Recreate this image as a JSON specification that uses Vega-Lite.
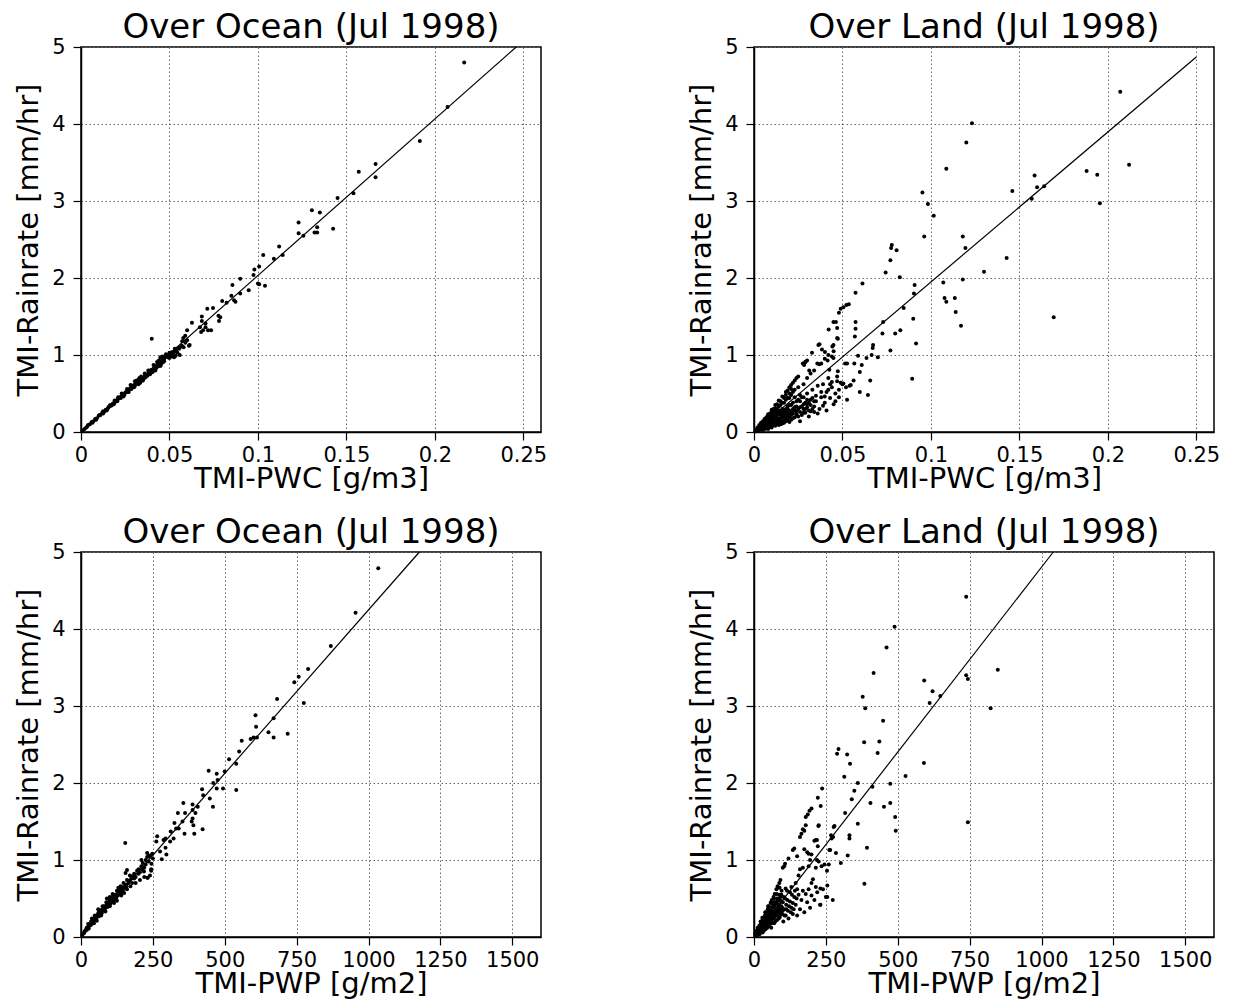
{
"$schema": "https://vega.github.io/schema/vega-lite/v6.json",
"padding": {"left": 13, "top": 10, "right": 5, "bottom": 5},
"bounds": "flush",
"columns": 2,
"spacing": {"row": 120, "column": 213},
"config": {
  "font": "DejaVu Sans",
  "view": {"stroke": "black", "strokeWidth": 1.5},
  "axis": {"domainColor": "black", "domainWidth": 1.5, "tickColor": "black", "tickSize": 8, "tickWidth": 1.2, "labelColor": "black", "titleColor": "black", "labelFontSize": 21, "titleFontSize": 29, "titleFontWeight": "normal", "labelFont": "DejaVu Sans", "titleFont": "DejaVu Sans", "grid": true, "gridColor": "#666666", "gridDash": [1.5, 2.5], "gridWidth": 1, "labelOverlap": false, "labelFlush": false},
  "axisX": {"labelPadding": 4, "titlePadding": -1},
  "axisY": {"labelPadding": 8, "titlePadding": 8},
  "title": {"fontSize": 34, "fontWeight": "normal", "font": "DejaVu Sans", "color": "black", "offset": -9, "anchor": "middle"}
},
"datasets": {
  "oceanPWC": [
    {"pwc":0.2166,"rain":4.80},{"pwc":0.2072,"rain":4.22},{"pwc":0.1915,"rain":3.78},{"pwc":0.1665,"rain":3.48},{"pwc":0.1665,"rain":3.31},{"pwc":0.157,"rain":3.38},{"pwc":0.154,"rain":3.10},{"pwc":0.145,"rain":3.04},{"pwc":0.1425,"rain":2.64},{"pwc":0.135,"rain":2.85},{"pwc":0.1305,"rain":2.88},{"pwc":0.1335,"rain":2.66},{"pwc":0.132,"rain":2.59},{"pwc":0.1335,"rain":2.59},{"pwc":0.123,"rain":2.72},{"pwc":0.123,"rain":2.58},{"pwc":0.1257,"rain":2.55},{"pwc":0.112,"rain":2.41},{"pwc":0.114,"rain":2.30},{"pwc":0.109,"rain":2.25},{"pwc":0.103,"rain":2.30},{"pwc":0.1007,"rain":2.15},{"pwc":0.098,"rain":2.11},{"pwc":0.0975,"rain":2.04},{"pwc":0.100,"rain":1.93},{"pwc":0.1007,"rain":1.92},{"pwc":0.104,"rain":1.90},{"pwc":0.090,"rain":1.99},{"pwc":0.0948,"rain":1.84},{"pwc":0.090,"rain":1.80},{"pwc":0.0856,"rain":1.91},{"pwc":0.085,"rain":1.77},{"pwc":0.0865,"rain":1.71},{"pwc":0.0873,"rain":1.69},{"pwc":0.0798,"rain":1.70},{"pwc":0.0823,"rain":1.68},{"pwc":0.0787,"rain":1.49},{"pwc":0.0777,"rain":1.51},{"pwc":0.078,"rain":1.44},{"pwc":0.0746,"rain":1.61},{"pwc":0.0714,"rain":1.60},{"pwc":0.0683,"rain":1.50},{"pwc":0.0683,"rain":1.44},{"pwc":0.0627,"rain":1.42},{"pwc":0.0672,"rain":1.36},{"pwc":0.0704,"rain":1.41},{"pwc":0.0704,"rain":1.36},{"pwc":0.0718,"rain":1.32},{"pwc":0.0735,"rain":1.32},{"pwc":0.0679,"rain":1.30},{"pwc":0.069,"rain":1.32},{"pwc":0.060,"rain":1.32},{"pwc":0.0589,"rain":1.25},{"pwc":0.0578,"rain":1.22},{"pwc":0.0572,"rain":1.18},{"pwc":0.0614,"rain":1.13},{"pwc":0.040,"rain":1.21},{"pwc":0.0558,"rain":1.00},{"pwc":0.0516,"rain":1.04},{"pwc":0.0526,"rain":0.97},{"pwc":0.0495,"rain":0.97},{"pwc":0.0464,"rain":0.95},{"pwc":0.0447,"rain":0.89},{"pwc":0.0449,"rain":0.97},{"pwc":0.0422,"rain":0.83},{"pwc":0.039,"rain":0.80},
    {"pwc":0.001,"rain":0.02},{"pwc":0.002,"rain":0.04},{"pwc":0.003,"rain":0.06},{"pwc":0.004,"rain":0.09},{"pwc":0.005,"rain":0.10},{"pwc":0.006,"rain":0.13},{"pwc":0.007,"rain":0.14},{"pwc":0.008,"rain":0.17},{"pwc":0.009,"rain":0.18},{"pwc":0.010,"rain":0.21},{"pwc":0.011,"rain":0.22},{"pwc":0.012,"rain":0.25},{"pwc":0.013,"rain":0.26},{"pwc":0.014,"rain":0.29},{"pwc":0.015,"rain":0.30},{"pwc":0.016,"rain":0.33},{"pwc":0.017,"rain":0.34},{"pwc":0.018,"rain":0.37},{"pwc":0.019,"rain":0.38},{"pwc":0.020,"rain":0.41},{"pwc":0.021,"rain":0.43},{"pwc":0.022,"rain":0.45},{"pwc":0.023,"rain":0.47},{"pwc":0.024,"rain":0.49},{"pwc":0.025,"rain":0.51},{"pwc":0.026,"rain":0.53},{"pwc":0.027,"rain":0.55},{"pwc":0.028,"rain":0.57},{"pwc":0.029,"rain":0.59},{"pwc":0.030,"rain":0.61},{"pwc":0.031,"rain":0.63},{"pwc":0.032,"rain":0.65},{"pwc":0.033,"rain":0.66},{"pwc":0.034,"rain":0.68},{"pwc":0.035,"rain":0.70},{"pwc":0.036,"rain":0.72},{"pwc":0.037,"rain":0.74},{"pwc":0.038,"rain":0.76},{"pwc":0.039,"rain":0.79},{"pwc":0.040,"rain":0.81},{"pwc":0.041,"rain":0.82},{"pwc":0.042,"rain":0.85},{"pwc":0.043,"rain":0.87},{"pwc":0.044,"rain":0.90},{"pwc":0.045,"rain":0.92},{"pwc":0.046,"rain":0.93},{"pwc":0.047,"rain":0.95},{"pwc":0.048,"rain":0.98},{"pwc":0.050,"rain":1.01},{"pwc":0.051,"rain":1.03},{"pwc":0.052,"rain":1.02},{"pwc":0.053,"rain":1.05},{"pwc":0.054,"rain":1.07},{"pwc":0.055,"rain":1.09},{"pwc":0.056,"rain":1.10},{"pwc":0.057,"rain":1.12},
    {"pwc":0.0035,"rain":0.07},{"pwc":0.0065,"rain":0.12},{"pwc":0.0085,"rain":0.16},{"pwc":0.0105,"rain":0.22},{"pwc":0.0125,"rain":0.24},{"pwc":0.0145,"rain":0.28},{"pwc":0.0155,"rain":0.32},{"pwc":0.0175,"rain":0.35},{"pwc":0.0185,"rain":0.36},{"pwc":0.0195,"rain":0.40},{"pwc":0.0205,"rain":0.40},{"pwc":0.0215,"rain":0.44},{"pwc":0.0225,"rain":0.44},{"pwc":0.0235,"rain":0.48},{"pwc":0.0245,"rain":0.48},{"pwc":0.0255,"rain":0.52},{"pwc":0.0265,"rain":0.52},{"pwc":0.0275,"rain":0.56},{"pwc":0.0285,"rain":0.56},{"pwc":0.0295,"rain":0.60},{"pwc":0.0305,"rain":0.60},{"pwc":0.0315,"rain":0.64},{"pwc":0.0325,"rain":0.62},{"pwc":0.0335,"rain":0.64},{"pwc":0.0345,"rain":0.67},{"pwc":0.0355,"rain":0.69},{"pwc":0.0365,"rain":0.71},{"pwc":0.0375,"rain":0.73},{"pwc":0.0385,"rain":0.75},{"pwc":0.0395,"rain":0.77},{"pwc":0.0405,"rain":0.78},{"pwc":0.0415,"rain":0.84},{"pwc":0.0425,"rain":0.83},{"pwc":0.0435,"rain":0.85},{"pwc":0.0445,"rain":0.86},{"pwc":0.0455,"rain":0.89},{"pwc":0.0465,"rain":0.91},{"pwc":0.049,"rain":0.97},{"pwc":0.0495,"rain":1.00},{"pwc":0.0515,"rain":1.00},{"pwc":0.0525,"rain":1.04},{"pwc":0.0535,"rain":0.99},{"pwc":0.0545,"rain":1.03},{"pwc":0.058,"rain":1.10},{"pwc":0.059,"rain":1.16},{"pwc":0.060,"rain":1.19},{"pwc":0.061,"rain":1.12},{"pwc":0.0555,"rain":1.08},{"pwc":0.053,"rain":0.99},{"pwc":0.051,"rain":0.98},{"pwc":0.0305,"rain":0.66},{"pwc":0.0315,"rain":0.67},{"pwc":0.0325,"rain":0.68},{"pwc":0.034,"rain":0.72},
    {"pwc":0.0125,"rain":0.27},{"pwc":0.0165,"rain":0.35},{"pwc":0.019,"rain":0.41},{"pwc":0.021,"rain":0.45},{"pwc":0.023,"rain":0.50},{"pwc":0.026,"rain":0.56},{"pwc":0.028,"rain":0.61},{"pwc":0.031,"rain":0.66},{"pwc":0.033,"rain":0.70},{"pwc":0.036,"rain":0.76},{"pwc":0.038,"rain":0.80},{"pwc":0.041,"rain":0.87},{"pwc":0.043,"rain":0.91},{"pwc":0.030,"rain":0.58},{"pwc":0.027,"rain":0.52},{"pwc":0.024,"rain":0.46},{"pwc":0.035,"rain":0.67},{"pwc":0.039,"rain":0.75},{"pwc":0.042,"rain":0.80},{"pwc":0.045,"rain":0.86},{"pwc":0.047,"rain":0.92},{"pwc":0.050,"rain":0.96},{"pwc":0.044,"rain":0.93},{"pwc":0.046,"rain":0.98},{"pwc":0.048,"rain":1.01},{"pwc":0.050,"rain":1.03},{"pwc":0.053,"rain":1.08}
  ],
  "landPWC": [
    {"pwc":0.207,"rain":4.42},{"pwc":0.212,"rain":3.47},{"pwc":0.188,"rain":3.39},{"pwc":0.194,"rain":3.34},{"pwc":0.1955,"rain":2.97},{"pwc":0.1586,"rain":3.33},{"pwc":0.160,"rain":3.18},{"pwc":0.164,"rain":3.19},{"pwc":0.157,"rain":3.03},{"pwc":0.146,"rain":3.13},{"pwc":0.1428,"rain":2.26},{"pwc":0.130,"rain":2.08},{"pwc":0.1232,"rain":4.01},{"pwc":0.120,"rain":3.76},{"pwc":0.1087,"rain":3.42},{"pwc":0.0952,"rain":3.11},{"pwc":0.0983,"rain":2.96},{"pwc":0.1016,"rain":2.81},{"pwc":0.0962,"rain":2.54},{"pwc":0.118,"rain":2.54},{"pwc":0.1195,"rain":2.39},{"pwc":0.118,"rain":1.98},{"pwc":0.107,"rain":1.94},{"pwc":0.1077,"rain":1.74},{"pwc":0.1087,"rain":1.69},{"pwc":0.1135,"rain":1.74},{"pwc":0.114,"rain":1.56},{"pwc":0.117,"rain":1.38},{"pwc":0.1694,"rain":1.49},{"pwc":0.0908,"rain":1.91},{"pwc":0.0904,"rain":1.80},{"pwc":0.090,"rain":1.47},{"pwc":0.0916,"rain":1.15},{"pwc":0.0894,"rain":0.69},{"pwc":0.0824,"rain":2.01},{"pwc":0.0846,"rain":1.61},{"pwc":0.0827,"rain":1.32},{"pwc":0.0798,"rain":1.28},{"pwc":0.0771,"rain":1.06},{"pwc":0.0779,"rain":2.43},{"pwc":0.0775,"rain":2.39},{"pwc":0.0771,"rain":2.23},{"pwc":0.0806,"rain":2.36},{"pwc":0.0744,"rain":2.07},{"pwc":0.073,"rain":1.43},{"pwc":0.0726,"rain":1.28},{"pwc":0.070,"rain":0.97},{"pwc":0.0673,"rain":1.13},{"pwc":0.0671,"rain":1.09},{"pwc":0.0665,"rain":1.00},{"pwc":0.0657,"rain":0.67},{"pwc":0.0644,"rain":0.48},{"pwc":0.0636,"rain":0.96},{"pwc":0.0609,"rain":0.87},{"pwc":0.0598,"rain":0.78},{"pwc":0.0598,"rain":0.52},{"pwc":0.0588,"rain":0.99},{"pwc":0.0613,"rain":1.93},{"pwc":0.0574,"rain":1.81},{"pwc":0.0574,"rain":1.43},{"pwc":0.0574,"rain":1.34},{"pwc":0.057,"rain":1.24},{"pwc":0.0567,"rain":0.89},{"pwc":0.0563,"rain":0.67},{"pwc":0.0526,"rain":0.42},{"pwc":0.0536,"rain":1.66},{"pwc":0.0522,"rain":1.65},{"pwc":0.0505,"rain":1.62},{"pwc":0.049,"rain":1.60},{"pwc":0.048,"rain":1.55},{"pwc":0.0515,"rain":0.89},{"pwc":0.0526,"rain":0.89},{"pwc":0.0547,"rain":0.61},{"pwc":0.0505,"rain":0.63},{"pwc":0.0463,"rain":1.43},{"pwc":0.0449,"rain":1.43},{"pwc":0.0422,"rain":1.33},{"pwc":0.047,"rain":1.35},{"pwc":0.0474,"rain":1.21},{"pwc":0.0449,"rain":1.13},{"pwc":0.0443,"rain":1.11},{"pwc":0.0449,"rain":0.96},{"pwc":0.0416,"rain":0.93},{"pwc":0.0426,"rain":0.81},{"pwc":0.0474,"rain":0.79},{"pwc":0.0401,"rain":1.04},{"pwc":0.0384,"rain":1.07},{"pwc":0.037,"rain":1.14},{"pwc":0.0364,"rain":1.13},{"pwc":0.038,"rain":0.89},{"pwc":0.0358,"rain":0.89},{"pwc":0.0328,"rain":1.03},{"pwc":0.0312,"rain":0.80},{"pwc":0.0291,"rain":0.91},{"pwc":0.0283,"rain":0.87},{"pwc":0.0276,"rain":0.89},
    {"pwc":0.002,"rain":0.06},{"pwc":0.004,"rain":0.12},{"pwc":0.006,"rain":0.17},{"pwc":0.008,"rain":0.23},{"pwc":0.010,"rain":0.29},{"pwc":0.012,"rain":0.35},{"pwc":0.014,"rain":0.41},{"pwc":0.016,"rain":0.46},{"pwc":0.018,"rain":0.52},{"pwc":0.020,"rain":0.58},{"pwc":0.021,"rain":0.61},{"pwc":0.022,"rain":0.64},{"pwc":0.023,"rain":0.67},{"pwc":0.024,"rain":0.70},{"pwc":0.025,"rain":0.72},{"pwc":0.029,"rain":0.91},{"pwc":0.030,"rain":0.93},
    {"pwc":0.003,"rain":0.03},{"pwc":0.004,"rain":0.05},{"pwc":0.005,"rain":0.08},{"pwc":0.006,"rain":0.04},{"pwc":0.007,"rain":0.10},{"pwc":0.008,"rain":0.06},{"pwc":0.009,"rain":0.14},{"pwc":0.010,"rain":0.08},{"pwc":0.011,"rain":0.18},{"pwc":0.012,"rain":0.10},{"pwc":0.013,"rain":0.22},{"pwc":0.014,"rain":0.12},{"pwc":0.015,"rain":0.26},{"pwc":0.016,"rain":0.14},{"pwc":0.017,"rain":0.20},{"pwc":0.018,"rain":0.30},{"pwc":0.019,"rain":0.16},{"pwc":0.020,"rain":0.24},{"pwc":0.021,"rain":0.35},{"pwc":0.022,"rain":0.18},{"pwc":0.023,"rain":0.28},{"pwc":0.024,"rain":0.40},{"pwc":0.025,"rain":0.20},{"pwc":0.026,"rain":0.32},{"pwc":0.027,"rain":0.45},{"pwc":0.028,"rain":0.25},{"pwc":0.029,"rain":0.38},{"pwc":0.030,"rain":0.50},{"pwc":0.031,"rain":0.28},{"pwc":0.032,"rain":0.42},{"pwc":0.033,"rain":0.55},{"pwc":0.034,"rain":0.33},{"pwc":0.035,"rain":0.47},{"pwc":0.036,"rain":0.60},{"pwc":0.037,"rain":0.30},{"pwc":0.038,"rain":0.45},{"pwc":0.039,"rain":0.62},{"pwc":0.040,"rain":0.38},{"pwc":0.041,"rain":0.52},{"pwc":0.042,"rain":0.70},{"pwc":0.043,"rain":0.44},{"pwc":0.044,"rain":0.58},{"pwc":0.045,"rain":0.36},{"pwc":0.046,"rain":0.50},{"pwc":0.047,"rain":0.66},{"pwc":0.048,"rain":0.55},{"pwc":0.050,"rain":0.62},{"pwc":0.052,"rain":0.58},{"pwc":0.054,"rain":0.60},{"pwc":0.047,"rain":0.72},{"pwc":0.049,"rain":0.64},{"pwc":0.041,"rain":0.28},{"pwc":0.036,"rain":0.24},{"pwc":0.031,"rain":0.20},{"pwc":0.026,"rain":0.14},{"pwc":0.022,"rain":0.30},{"pwc":0.019,"rain":0.25},{"pwc":0.017,"rain":0.28},{"pwc":0.015,"rain":0.18},{"pwc":0.013,"rain":0.16},{"pwc":0.011,"rain":0.12},{"pwc":0.018,"rain":0.21},{"pwc":0.020,"rain":0.19},{"pwc":0.021,"rain":0.22},{"pwc":0.023,"rain":0.19},{"pwc":0.024,"rain":0.23},{"pwc":0.027,"rain":0.33},{"pwc":0.028,"rain":0.36},{"pwc":0.029,"rain":0.30},{"pwc":0.032,"rain":0.35},{"pwc":0.033,"rain":0.44},{"pwc":0.035,"rain":0.40},{"pwc":0.038,"rain":0.52},{"pwc":0.040,"rain":0.46},{"pwc":0.043,"rain":0.62},{"pwc":0.044,"rain":0.65},{"pwc":0.046,"rain":0.40},{"pwc":0.048,"rain":0.45},{"pwc":0.042,"rain":0.55},
    {"pwc":0.015,"rain":0.35},{"pwc":0.018,"rain":0.42},{"pwc":0.020,"rain":0.50},{"pwc":0.022,"rain":0.52},{"pwc":0.025,"rain":0.58},{"pwc":0.028,"rain":0.62},{"pwc":0.030,"rain":0.70},{"pwc":0.032,"rain":0.76},{"pwc":0.034,"rain":0.80},{"pwc":0.037,"rain":0.88},{"pwc":0.040,"rain":0.95},{"pwc":0.042,"rain":1.00},{"pwc":0.044,"rain":0.98},{"pwc":0.045,"rain":1.05},{"pwc":0.047,"rain":1.22},
    {"pwc":0.005,"rain":0.12},{"pwc":0.007,"rain":0.16},{"pwc":0.009,"rain":0.20},{"pwc":0.011,"rain":0.25},{"pwc":0.013,"rain":0.30},{"pwc":0.016,"rain":0.22},{"pwc":0.019,"rain":0.33},{"pwc":0.002,"rain":0.02},{"pwc":0.003,"rain":0.07},{"pwc":0.006,"rain":0.09},{"pwc":0.008,"rain":0.13},{"pwc":0.010,"rain":0.17},{"pwc":0.012,"rain":0.20},{"pwc":0.014,"rain":0.24},{"pwc":0.016,"rain":0.30},{"pwc":0.017,"rain":0.38},{"pwc":0.019,"rain":0.44},{"pwc":0.021,"rain":0.48},{"pwc":0.023,"rain":0.55},{"pwc":0.024,"rain":0.33},{"pwc":0.026,"rain":0.40},{"pwc":0.030,"rain":0.36},{"pwc":0.034,"rain":0.26},{"pwc":0.039,"rain":0.34},
    {"pwc":0.001,"rain":0.01},{"pwc":0.001,"rain":0.03},{"pwc":0.002,"rain":0.04},{"pwc":0.003,"rain":0.05},{"pwc":0.003,"rain":0.09},{"pwc":0.004,"rain":0.03},{"pwc":0.004,"rain":0.08},{"pwc":0.005,"rain":0.05},{"pwc":0.005,"rain":0.14},{"pwc":0.006,"rain":0.07},{"pwc":0.006,"rain":0.11},{"pwc":0.007,"rain":0.05},{"pwc":0.007,"rain":0.13},{"pwc":0.007,"rain":0.19},{"pwc":0.008,"rain":0.09},{"pwc":0.008,"rain":0.17},{"pwc":0.009,"rain":0.07},{"pwc":0.009,"rain":0.11},{"pwc":0.009,"rain":0.24},{"pwc":0.010,"rain":0.12},{"pwc":0.010,"rain":0.22},{"pwc":0.011,"rain":0.09},{"pwc":0.011,"rain":0.15},{"pwc":0.011,"rain":0.30},{"pwc":0.012,"rain":0.14},{"pwc":0.012,"rain":0.27},{"pwc":0.013,"rain":0.11},{"pwc":0.013,"rain":0.19},{"pwc":0.013,"rain":0.36},{"pwc":0.014,"rain":0.16},{"pwc":0.014,"rain":0.28},{"pwc":0.015,"rain":0.13},{"pwc":0.015,"rain":0.22},{"pwc":0.016,"rain":0.19},{"pwc":0.016,"rain":0.38},{"pwc":0.017,"rain":0.15},{"pwc":0.017,"rain":0.24},{"pwc":0.018,"rain":0.17},{"pwc":0.018,"rain":0.26},{"pwc":0.019,"rain":0.21},{"pwc":0.019,"rain":0.30},{"pwc":0.020,"rain":0.28},{"pwc":0.020,"rain":0.35},{"pwc":0.021,"rain":0.26},{"pwc":0.022,"rain":0.24},{"pwc":0.022,"rain":0.38},{"pwc":0.023,"rain":0.32},{"pwc":0.023,"rain":0.45},{"pwc":0.024,"rain":0.27},{"pwc":0.025,"rain":0.30},{"pwc":0.025,"rain":0.42},{"pwc":0.026,"rain":0.26},{"pwc":0.026,"rain":0.48},{"pwc":0.027,"rain":0.22},{"pwc":0.028,"rain":0.30},{"pwc":0.028,"rain":0.45},{"pwc":0.029,"rain":0.25},{"pwc":0.030,"rain":0.32},{"pwc":0.030,"rain":0.42},{"pwc":0.031,"rain":0.38},{"pwc":0.032,"rain":0.27},{"pwc":0.033,"rain":0.30},{"pwc":0.034,"rain":0.40},
    {"pwc":0.002,"rain":0.03},{"pwc":0.003,"rain":0.04},{"pwc":0.004,"rain":0.10},{"pwc":0.005,"rain":0.03},{"pwc":0.005,"rain":0.10},{"pwc":0.006,"rain":0.14},{"pwc":0.006,"rain":0.06},{"pwc":0.007,"rain":0.08},{"pwc":0.008,"rain":0.04},{"pwc":0.008,"rain":0.20},{"pwc":0.009,"rain":0.09},{"pwc":0.009,"rain":0.16},{"pwc":0.010,"rain":0.06},{"pwc":0.010,"rain":0.26},{"pwc":0.011,"rain":0.20},{"pwc":0.012,"rain":0.08},{"pwc":0.012,"rain":0.31},{"pwc":0.013,"rain":0.13},{"pwc":0.013,"rain":0.25},{"pwc":0.014,"rain":0.09},{"pwc":0.014,"rain":0.33},{"pwc":0.015,"rain":0.10},{"pwc":0.015,"rain":0.40},{"pwc":0.016,"rain":0.11},{"pwc":0.016,"rain":0.26},{"pwc":0.017,"rain":0.12},{"pwc":0.017,"rain":0.44},{"pwc":0.018,"rain":0.14},{"pwc":0.018,"rain":0.48},{"pwc":0.019,"rain":0.19},{"pwc":0.019,"rain":0.54},{"pwc":0.020,"rain":0.13},{"pwc":0.020,"rain":0.44},{"pwc":0.021,"rain":0.16},{"pwc":0.021,"rain":0.56}
  ],
  "oceanPWP": [
    {"pwp":1034,"rain":4.79},{"pwp":955,"rain":4.21},{"pwp":869,"rain":3.78},{"pwp":790,"rain":3.48},{"pwp":757,"rain":3.38},{"pwp":742,"rain":3.31},{"pwp":775,"rain":3.04},{"pwp":682,"rain":3.09},{"pwp":670,"rain":2.84},{"pwp":670,"rain":2.59},{"pwp":719,"rain":2.64},{"pwp":652,"rain":2.66},{"pwp":607,"rain":2.88},{"pwp":609,"rain":2.73},{"pwp":600,"rain":2.59},{"pwp":612,"rain":2.59},{"pwp":590,"rain":2.57},{"pwp":559,"rain":2.55},{"pwp":550,"rain":2.41},{"pwp":540,"rain":2.25},{"pwp":540,"rain":1.91},{"pwp":515,"rain":2.31},{"pwp":500,"rain":2.15},{"pwp":494,"rain":1.93},{"pwp":472,"rain":2.12},{"pwp":475,"rain":2.04},{"pwp":472,"rain":1.93},{"pwp":460,"rain":2.00},{"pwp":444,"rain":2.16},{"pwp":448,"rain":1.80},{"pwp":459,"rain":1.69},{"pwp":421,"rain":1.92},{"pwp":425,"rain":1.84},{"pwp":406,"rain":1.69},{"pwp":388,"rain":1.72},{"pwp":388,"rain":1.65},{"pwp":398,"rain":1.61},{"pwp":388,"rain":1.54},{"pwp":385,"rain":1.50},{"pwp":423,"rain":1.40},{"pwp":391,"rain":1.45},{"pwp":394,"rain":1.34},{"pwp":362,"rain":1.61},{"pwp":356,"rain":1.74},{"pwp":353,"rain":1.50},{"pwp":360,"rain":1.34},{"pwp":337,"rain":1.61},{"pwp":340,"rain":1.41},{"pwp":331,"rain":1.41},{"pwp":325,"rain":1.48},{"pwp":312,"rain":1.37},{"pwp":322,"rain":1.28},{"pwp":310,"rain":1.24},{"pwp":294,"rain":1.28},{"pwp":287,"rain":1.26},{"pwp":275,"rain":1.11},{"pwp":294,"rain":1.16},{"pwp":297,"rain":1.07},{"pwp":281,"rain":1.01},{"pwp":265,"rain":1.31},{"pwp":262,"rain":1.24},{"pwp":154,"rain":1.22},{"pwp":244,"rain":0.88},{"pwp":231,"rain":0.77},{"pwp":219,"rain":0.85},
    {"pwp":5,"rain":0.03},{"pwp":10,"rain":0.05},{"pwp":12,"rain":0.07},{"pwp":15,"rain":0.08},{"pwp":18,"rain":0.10},{"pwp":20,"rain":0.09},{"pwp":22,"rain":0.12},{"pwp":25,"rain":0.13},{"pwp":27,"rain":0.11},{"pwp":30,"rain":0.15},{"pwp":32,"rain":0.17},{"pwp":35,"rain":0.16},{"pwp":38,"rain":0.19},{"pwp":40,"rain":0.21},{"pwp":42,"rain":0.18},{"pwp":45,"rain":0.22},{"pwp":48,"rain":0.25},{"pwp":50,"rain":0.23},{"pwp":52,"rain":0.27},{"pwp":55,"rain":0.26},{"pwp":58,"rain":0.29},{"pwp":60,"rain":0.31},{"pwp":62,"rain":0.27},{"pwp":65,"rain":0.30},{"pwp":68,"rain":0.33},{"pwp":70,"rain":0.35},{"pwp":72,"rain":0.31},{"pwp":75,"rain":0.34},{"pwp":78,"rain":0.37},{"pwp":80,"rain":0.40},{"pwp":82,"rain":0.35},{"pwp":85,"rain":0.38},{"pwp":88,"rain":0.41},{"pwp":90,"rain":0.44},{"pwp":92,"rain":0.39},{"pwp":95,"rain":0.42},{"pwp":98,"rain":0.46},{"pwp":100,"rain":0.48},{"pwp":102,"rain":0.43},{"pwp":105,"rain":0.45},{"pwp":108,"rain":0.49},{"pwp":110,"rain":0.52},{"pwp":112,"rain":0.47},{"pwp":115,"rain":0.50},{"pwp":118,"rain":0.53},{"pwp":120,"rain":0.55},{"pwp":122,"rain":0.50},{"pwp":125,"rain":0.53},{"pwp":128,"rain":0.57},{"pwp":130,"rain":0.60},{"pwp":132,"rain":0.55},{"pwp":135,"rain":0.58},{"pwp":138,"rain":0.62},{"pwp":140,"rain":0.64},{"pwp":142,"rain":0.58},{"pwp":145,"rain":0.61},{"pwp":148,"rain":0.65},{"pwp":150,"rain":0.57},{"pwp":152,"rain":0.63},{"pwp":155,"rain":0.68},{"pwp":158,"rain":0.66},{"pwp":160,"rain":0.62},{"pwp":165,"rain":0.70},{"pwp":170,"rain":0.73},{"pwp":175,"rain":0.76},{"pwp":178,"rain":0.70},{"pwp":180,"rain":0.79},{"pwp":185,"rain":0.82},{"pwp":190,"rain":0.78},{"pwp":195,"rain":0.86},{"pwp":200,"rain":0.88},{"pwp":205,"rain":0.84},{"pwp":210,"rain":0.92},{"pwp":215,"rain":0.96},{"pwp":220,"rain":0.90},{"pwp":225,"rain":1.00},{"pwp":230,"rain":1.04},{"pwp":235,"rain":0.98},{"pwp":240,"rain":1.06},{"pwp":245,"rain":0.95},{"pwp":250,"rain":1.02},{"pwp":232,"rain":0.77},{"pwp":240,"rain":0.80},{"pwp":244,"rain":0.86},{"pwp":220,"rain":0.78},{"pwp":205,"rain":0.74},{"pwp":190,"rain":0.70},{"pwp":172,"rain":0.66},{"pwp":155,"rain":0.83},{"pwp":160,"rain":0.87},{"pwp":38,"rain":0.24},{"pwp":60,"rain":0.36},{"pwp":25,"rain":0.17},{"pwp":90,"rain":0.50},{"pwp":110,"rain":0.56},{"pwp":130,"rain":0.64},{"pwp":70,"rain":0.28},{"pwp":85,"rain":0.33},{"pwp":100,"rain":0.40},{"pwp":115,"rain":0.44},{"pwp":125,"rain":0.47},{"pwp":140,"rain":0.54},{"pwp":45,"rain":0.18},{"pwp":55,"rain":0.21},
    {"pwp":20,"rain":0.12},{"pwp":28,"rain":0.16},{"pwp":35,"rain":0.20},{"pwp":48,"rain":0.28},{"pwp":62,"rain":0.34},{"pwp":75,"rain":0.40},{"pwp":88,"rain":0.45},{"pwp":100,"rain":0.52},{"pwp":112,"rain":0.55},{"pwp":125,"rain":0.60},{"pwp":138,"rain":0.66},{"pwp":148,"rain":0.70},{"pwp":160,"rain":0.74},{"pwp":170,"rain":0.80},{"pwp":185,"rain":0.76},{"pwp":200,"rain":0.82},{"pwp":212,"rain":0.88},{"pwp":225,"rain":0.94},{"pwp":235,"rain":1.05},{"pwp":248,"rain":1.08},{"pwp":210,"rain":1.00},{"pwp":230,"rain":1.09}
  ],
  "landPWP": [
    {"pwp":738,"rain":4.42},{"pwp":848,"rain":3.47},{"pwp":738,"rain":3.40},{"pwp":744,"rain":3.35},{"pwp":823,"rain":2.97},{"pwp":744,"rain":1.49},{"pwp":489,"rain":4.03},{"pwp":461,"rain":3.76},{"pwp":416,"rain":3.43},{"pwp":592,"rain":3.33},{"pwp":621,"rain":3.19},{"pwp":611,"rain":3.04},{"pwp":648,"rain":3.13},{"pwp":378,"rain":3.12},{"pwp":387,"rain":2.97},{"pwp":449,"rain":2.81},{"pwp":383,"rain":2.53},{"pwp":436,"rain":2.54},{"pwp":430,"rain":2.39},{"pwp":591,"rain":2.26},{"pwp":527,"rain":2.09},{"pwp":474,"rain":1.99},{"pwp":474,"rain":1.74},{"pwp":452,"rain":1.69},{"pwp":405,"rain":1.74},{"pwp":412,"rain":1.95},{"pwp":491,"rain":1.56},{"pwp":493,"rain":1.38},{"pwp":393,"rain":1.16},{"pwp":384,"rain":0.69},{"pwp":294,"rain":2.44},{"pwp":289,"rain":2.38},{"pwp":324,"rain":2.37},{"pwp":334,"rain":2.25},{"pwp":314,"rain":2.08},{"pwp":361,"rain":2.00},{"pwp":349,"rain":1.90},{"pwp":340,"rain":1.79},{"pwp":317,"rain":1.61},{"pwp":361,"rain":1.47},{"pwp":332,"rain":1.32},{"pwp":332,"rain":1.28},{"pwp":326,"rain":1.06},{"pwp":302,"rain":0.96},{"pwp":285,"rain":1.09},{"pwp":277,"rain":1.43},{"pwp":268,"rain":1.32},{"pwp":270,"rain":1.28},{"pwp":262,"rain":1.13},{"pwp":260,"rain":0.94},{"pwp":254,"rain":0.86},{"pwp":255,"rain":0.67},{"pwp":255,"rain":0.52},{"pwp":274,"rain":0.48},{"pwp":237,"rain":1.93},{"pwp":232,"rain":1.70},{"pwp":224,"rain":1.44},{"pwp":222,"rain":1.18},{"pwp":219,"rain":1.00},{"pwp":200,"rain":1.67},{"pwp":193,"rain":1.64},{"pwp":187,"rain":1.59},{"pwp":180,"rain":1.56},{"pwp":222,"rain":1.81},{"pwp":219,"rain":1.26},{"pwp":231,"rain":0.63},{"pwp":231,"rain":0.42},
    {"pwp":5,"rain":0.03},{"pwp":8,"rain":0.06},{"pwp":10,"rain":0.02},{"pwp":12,"rain":0.09},{"pwp":15,"rain":0.05},{"pwp":18,"rain":0.12},{"pwp":20,"rain":0.04},{"pwp":22,"rain":0.15},{"pwp":25,"rain":0.08},{"pwp":28,"rain":0.20},{"pwp":30,"rain":0.06},{"pwp":32,"rain":0.24},{"pwp":35,"rain":0.12},{"pwp":38,"rain":0.28},{"pwp":40,"rain":0.10},{"pwp":42,"rain":0.32},{"pwp":45,"rain":0.18},{"pwp":48,"rain":0.36},{"pwp":50,"rain":0.14},{"pwp":52,"rain":0.40},{"pwp":55,"rain":0.22},{"pwp":58,"rain":0.44},{"pwp":60,"rain":0.12},{"pwp":62,"rain":0.48},{"pwp":65,"rain":0.26},{"pwp":68,"rain":0.52},{"pwp":70,"rain":0.18},{"pwp":72,"rain":0.56},{"pwp":75,"rain":0.30},{"pwp":78,"rain":0.62},{"pwp":80,"rain":0.22},{"pwp":82,"rain":0.66},{"pwp":85,"rain":0.35},{"pwp":88,"rain":0.70},{"pwp":90,"rain":0.26},{"pwp":92,"rain":0.74},{"pwp":95,"rain":0.40},{"pwp":98,"rain":0.30},{"pwp":100,"rain":0.45},{"pwp":102,"rain":0.20},{"pwp":105,"rain":0.36},{"pwp":108,"rain":0.50},{"pwp":110,"rain":0.28},{"pwp":112,"rain":0.42},{"pwp":115,"rain":0.60},{"pwp":118,"rain":0.34},{"pwp":120,"rain":0.24},{"pwp":125,"rain":0.46},{"pwp":130,"rain":0.38},{"pwp":135,"rain":0.30},{"pwp":140,"rain":0.52},{"pwp":145,"rain":0.42},{"pwp":150,"rain":0.28},{"pwp":155,"rain":0.55},{"pwp":160,"rain":0.36},{"pwp":165,"rain":0.48},{"pwp":170,"rain":0.60},{"pwp":175,"rain":0.32},{"pwp":180,"rain":0.56},{"pwp":185,"rain":0.45},{"pwp":190,"rain":0.62},{"pwp":195,"rain":0.38},{"pwp":200,"rain":0.54},{"pwp":210,"rain":0.48},{"pwp":215,"rain":0.65},{"pwp":220,"rain":0.58},{"pwp":230,"rain":0.42},{"pwp":240,"rain":0.62},{"pwp":250,"rain":0.52},
    {"pwp":100,"rain":0.90},{"pwp":105,"rain":0.92},{"pwp":108,"rain":0.95},{"pwp":120,"rain":1.02},{"pwp":135,"rain":1.13},{"pwp":140,"rain":1.15},{"pwp":150,"rain":1.05},{"pwp":160,"rain":1.30},{"pwp":165,"rain":1.34},{"pwp":170,"rain":1.40},{"pwp":175,"rain":1.38},{"pwp":180,"rain":1.45},{"pwp":185,"rain":1.10},{"pwp":190,"rain":1.08},{"pwp":195,"rain":1.00},{"pwp":200,"rain":1.07},{"pwp":210,"rain":1.25},{"pwp":215,"rain":1.26},{"pwp":225,"rain":1.45},{"pwp":130,"rain":0.65},{"pwp":145,"rain":0.70},{"pwp":155,"rain":0.80},{"pwp":160,"rain":0.88},{"pwp":170,"rain":0.90},{"pwp":175,"rain":1.14},{"pwp":190,"rain":0.92},{"pwp":200,"rain":0.70},{"pwp":205,"rain":0.75},{"pwp":215,"rain":0.90},{"pwp":225,"rain":0.98},{"pwp":235,"rain":0.92},{"pwp":245,"rain":0.94},{"pwp":265,"rain":1.13},{"pwp":275,"rain":1.30},{"pwp":280,"rain":1.44},
    {"pwp":15,"rain":0.12},{"pwp":25,"rain":0.16},{"pwp":35,"rain":0.22},{"pwp":45,"rain":0.27},{"pwp":55,"rain":0.33},{"pwp":65,"rain":0.38},{"pwp":75,"rain":0.45},{"pwp":85,"rain":0.50},{"pwp":95,"rain":0.55},{"pwp":30,"rain":0.14},{"pwp":40,"rain":0.20},{"pwp":50,"rain":0.26},{"pwp":60,"rain":0.30},{"pwp":70,"rain":0.40},{"pwp":80,"rain":0.44},{"pwp":90,"rain":0.48},{"pwp":110,"rain":0.63},{"pwp":125,"rain":0.58},{"pwp":135,"rain":0.44},{"pwp":150,"rain":0.62},
    {"pwp":5,"rain":0.06},{"pwp":8,"rain":0.03},{"pwp":10,"rain":0.08},{"pwp":12,"rain":0.05},{"pwp":14,"rain":0.10},{"pwp":16,"rain":0.07},{"pwp":18,"rain":0.04},{"pwp":20,"rain":0.10},{"pwp":22,"rain":0.08},{"pwp":24,"rain":0.12},{"pwp":26,"rain":0.18},{"pwp":28,"rain":0.10},{"pwp":30,"rain":0.22},{"pwp":32,"rain":0.15},{"pwp":34,"rain":0.08},{"pwp":36,"rain":0.18},{"pwp":38,"rain":0.13},{"pwp":40,"rain":0.25},{"pwp":42,"rain":0.16},{"pwp":44,"rain":0.22},{"pwp":46,"rain":0.12},{"pwp":48,"rain":0.28},{"pwp":50,"rain":0.20},{"pwp":52,"rain":0.30},{"pwp":54,"rain":0.16},{"pwp":56,"rain":0.25},{"pwp":58,"rain":0.35},{"pwp":60,"rain":0.22},{"pwp":62,"rain":0.18},{"pwp":64,"rain":0.30},{"pwp":66,"rain":0.42},{"pwp":68,"rain":0.24},{"pwp":70,"rain":0.32},{"pwp":72,"rain":0.45},{"pwp":74,"rain":0.20},{"pwp":76,"rain":0.36},{"pwp":78,"rain":0.28},{"pwp":80,"rain":0.50},{"pwp":82,"rain":0.32},{"pwp":84,"rain":0.40},{"pwp":86,"rain":0.24},{"pwp":88,"rain":0.55},{"pwp":90,"rain":0.36},{"pwp":92,"rain":0.30},{"pwp":94,"rain":0.46},{"pwp":96,"rain":0.60},{"pwp":98,"rain":0.38},{"pwp":100,"rain":0.34},{"pwp":104,"rain":0.52},{"pwp":106,"rain":0.28},{"pwp":112,"rain":0.36},{"pwp":116,"rain":0.48},{"pwp":122,"rain":0.40},{"pwp":128,"rain":0.32},{"pwp":132,"rain":0.55},{"pwp":138,"rain":0.36},{"pwp":142,"rain":0.60},{"pwp":148,"rain":0.50},
    {"pwp":6,"rain":0.05},{"pwp":9,"rain":0.08},{"pwp":11,"rain":0.04},{"pwp":13,"rain":0.12},{"pwp":17,"rain":0.09},{"pwp":19,"rain":0.15},{"pwp":21,"rain":0.06},{"pwp":23,"rain":0.20},{"pwp":27,"rain":0.13},{"pwp":29,"rain":0.25},{"pwp":31,"rain":0.10},{"pwp":33,"rain":0.19},{"pwp":37,"rain":0.23},{"pwp":39,"rain":0.32},{"pwp":41,"rain":0.14},{"pwp":43,"rain":0.27},{"pwp":47,"rain":0.20},{"pwp":49,"rain":0.40},{"pwp":51,"rain":0.16},{"pwp":53,"rain":0.34},{"pwp":57,"rain":0.28},{"pwp":59,"rain":0.45},{"pwp":61,"rain":0.20},{"pwp":63,"rain":0.38},{"pwp":67,"rain":0.33},{"pwp":69,"rain":0.50},{"pwp":71,"rain":0.26},{"pwp":73,"rain":0.42},{"pwp":77,"rain":0.35},{"pwp":79,"rain":0.56},{"pwp":81,"rain":0.28},{"pwp":83,"rain":0.48},{"pwp":87,"rain":0.42},{"pwp":89,"rain":0.64},{"pwp":91,"rain":0.33},{"pwp":93,"rain":0.52}
  ],
  "fitOceanPWC": [{"pwc":0,"rain":0},{"pwc":0.246,"rain":5}],
  "fitLandPWC": [{"pwc":0,"rain":0},{"pwc":0.25,"rain":4.87}],
  "fitOceanPWP": [{"pwp":0,"rain":0},{"pwp":1177,"rain":5}],
  "fitLandPWP": [{"pwp":0,"rain":0},{"pwp":1041,"rain":5}]
},
"concat": [
  {
    "width": 460, "height": 385,
    "title": {"text": "Over Ocean (Jul 1998)"},
    "layer": [
      {"data": {"name": "oceanPWC"}, "mark": {"type": "circle", "size": 16, "color": "black", "opacity": 1},
       "encoding": {
         "x": {"field": "pwc", "type": "quantitative", "scale": {"domain": [0, 0.25]}, "axis": {"title": "TMI-PWC [g/m3]", "values": [0, 0.05, 0.1, 0.15, 0.2, 0.25], "format": ".2~f"}},
         "y": {"field": "rain", "type": "quantitative", "scale": {"domain": [0, 5]}, "axis": {"title": "TMI-Rainrate [mm/hr]", "values": [0, 1, 2, 3, 4, 5], "format": "d"}}}},
      {"data": {"name": "fitOceanPWC"}, "mark": {"type": "line", "color": "black", "strokeWidth": 1.2},
       "encoding": {"x": {"field": "pwc", "type": "quantitative"}, "y": {"field": "rain", "type": "quantitative"}}}
    ]
  },
  {
    "width": 460, "height": 385,
    "title": {"text": "Over Land (Jul 1998)"},
    "layer": [
      {"data": {"name": "landPWC"}, "mark": {"type": "circle", "size": 16, "color": "black", "opacity": 1},
       "encoding": {
         "x": {"field": "pwc", "type": "quantitative", "scale": {"domain": [0, 0.25]}, "axis": {"title": "TMI-PWC [g/m3]", "values": [0, 0.05, 0.1, 0.15, 0.2, 0.25], "format": ".2~f"}},
         "y": {"field": "rain", "type": "quantitative", "scale": {"domain": [0, 5]}, "axis": {"title": "TMI-Rainrate [mm/hr]", "values": [0, 1, 2, 3, 4, 5], "format": "d"}}}},
      {"data": {"name": "fitLandPWC"}, "mark": {"type": "line", "color": "black", "strokeWidth": 1.2},
       "encoding": {"x": {"field": "pwc", "type": "quantitative"}, "y": {"field": "rain", "type": "quantitative"}}}
    ]
  },
  {
    "width": 460, "height": 385,
    "title": {"text": "Over Ocean (Jul 1998)"},
    "layer": [
      {"data": {"name": "oceanPWP"}, "mark": {"type": "circle", "size": 16, "color": "black", "opacity": 1},
       "encoding": {
         "x": {"field": "pwp", "type": "quantitative", "scale": {"domain": [0, 1500]}, "axis": {"title": "TMI-PWP [g/m2]", "values": [0, 250, 500, 750, 1000, 1250, 1500], "format": "d"}},
         "y": {"field": "rain", "type": "quantitative", "scale": {"domain": [0, 5]}, "axis": {"title": "TMI-Rainrate [mm/hr]", "values": [0, 1, 2, 3, 4, 5], "format": "d"}}}},
      {"data": {"name": "fitOceanPWP"}, "mark": {"type": "line", "color": "black", "strokeWidth": 1.2},
       "encoding": {"x": {"field": "pwp", "type": "quantitative"}, "y": {"field": "rain", "type": "quantitative"}}}
    ]
  },
  {
    "width": 460, "height": 385,
    "title": {"text": "Over Land (Jul 1998)"},
    "layer": [
      {"data": {"name": "landPWP"}, "mark": {"type": "circle", "size": 16, "color": "black", "opacity": 1},
       "encoding": {
         "x": {"field": "pwp", "type": "quantitative", "scale": {"domain": [0, 1500]}, "axis": {"title": "TMI-PWP [g/m2]", "values": [0, 250, 500, 750, 1000, 1250, 1500], "format": "d"}},
         "y": {"field": "rain", "type": "quantitative", "scale": {"domain": [0, 5]}, "axis": {"title": "TMI-Rainrate [mm/hr]", "values": [0, 1, 2, 3, 4, 5], "format": "d"}}}},
      {"data": {"name": "fitLandPWP"}, "mark": {"type": "line", "color": "black", "strokeWidth": 1.2},
       "encoding": {"x": {"field": "pwp", "type": "quantitative"}, "y": {"field": "rain", "type": "quantitative"}}}
    ]
  }
]
}
